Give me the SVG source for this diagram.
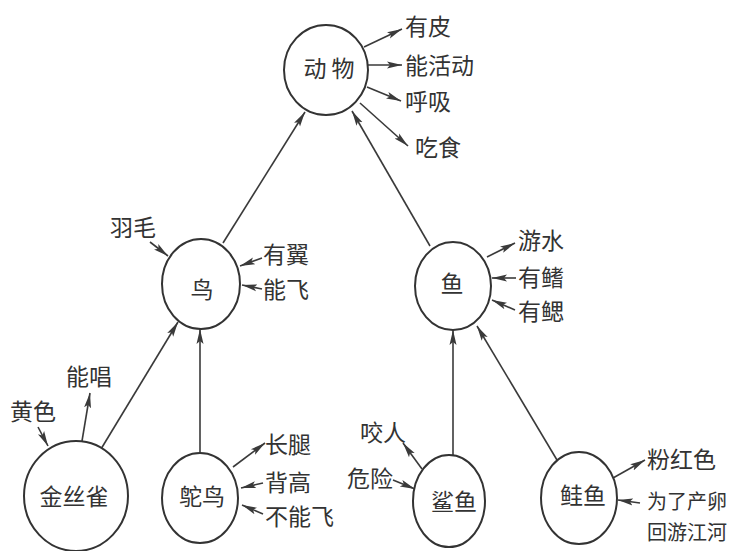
<svg xmlns="http://www.w3.org/2000/svg" width="736" height="551" viewBox="0 0 736 551">
<defs>
<marker id="ah" markerUnits="userSpaceOnUse" markerWidth="16" markerHeight="9" refX="15" refY="4.5" orient="auto">
<path d="M0,1 L15,4.5 L0,8 L3,4.5 z" fill="#3a3a3a"/>
</marker>
<style>
.n ellipse{fill:#fff;stroke:#333;stroke-width:2}
text{font-family:"Noto Sans CJK SC",sans-serif;fill:#333;dominant-baseline:central}
.lbl{font-size:23px;text-anchor:middle}
.at{font-size:23px}
#edges line{stroke:#3a3a3a;stroke-width:1.6;marker-end:url(#ah)}
</style>
</defs>
<rect width="736" height="551" fill="#fff"/>
<g id="edges">
<line x1="223" y1="243" x2="305" y2="112"/>
<line x1="430" y1="246" x2="352" y2="111"/>
<line x1="101" y1="449" x2="178" y2="322"/>
<line x1="200" y1="453" x2="200" y2="329"/>
<line x1="453" y1="456" x2="453" y2="330"/>
<line x1="557" y1="460" x2="477" y2="326"/>
<line x1="364" y1="47" x2="402" y2="29"/>
<line x1="368" y1="65" x2="402" y2="65"/>
<line x1="367" y1="87" x2="401" y2="101"/>
<line x1="360" y1="103" x2="408" y2="146"/>
<line x1="150" y1="242" x2="168" y2="256"/>
<line x1="262" y1="258" x2="240" y2="266"/>
<line x1="262" y1="289" x2="242" y2="285"/>
<line x1="487" y1="257" x2="515" y2="243"/>
<line x1="516" y1="278" x2="492" y2="278"/>
<line x1="515" y1="310" x2="492" y2="300"/>
<line x1="38" y1="427" x2="48" y2="446"/>
<line x1="82" y1="441" x2="90" y2="393"/>
<line x1="233" y1="467" x2="265" y2="443"/>
<line x1="263" y1="483" x2="241" y2="488"/>
<line x1="263" y1="514" x2="242" y2="505"/>
<line x1="422" y1="469" x2="403" y2="443"/>
<line x1="393" y1="480" x2="415" y2="489"/>
<line x1="613" y1="478" x2="645" y2="460"/>
<line x1="640" y1="503" x2="618" y2="500"/>
</g>
<g id="animal" class="n"><ellipse cx="326" cy="70" rx="42" ry="45"/><text class="lbl" x="329" y="67">动 物</text></g>
<g id="bird" class="n"><ellipse cx="201" cy="284" rx="39" ry="45"/><text class="lbl" x="202" y="288">鸟</text></g>
<g id="fish" class="n"><ellipse cx="453" cy="286" rx="38" ry="44"/><text class="lbl" x="452" y="282">鱼</text></g>
<g id="canary" class="n"><ellipse cx="76" cy="496" rx="52" ry="55"/><text class="lbl" x="74" y="495">金丝雀</text></g>
<g id="ostrich" class="n"><ellipse cx="200" cy="498" rx="38" ry="45"/><text class="lbl" x="202" y="495">鸵鸟</text></g>
<g id="shark" class="n"><ellipse cx="449" cy="501" rx="36" ry="46"/><text class="lbl" x="454" y="500">鲨鱼</text></g>
<g id="salmon" class="n"><ellipse cx="579" cy="498" rx="38" ry="46"/><text class="lbl" x="583" y="494">鲑鱼</text></g>
<g id="attrs">
<text class="at" x="405" y="25">有皮</text>
<text class="at" x="405" y="64">能活动</text>
<text class="at" x="405" y="100">呼吸</text>
<text class="at" x="415" y="146">吃食</text>
<text class="at" x="110" y="226">羽毛</text>
<text class="at" x="263" y="253">有翼</text>
<text class="at" x="263" y="288">能飞</text>
<text class="at" x="518" y="239">游水</text>
<text class="at" x="518" y="276">有鳍</text>
<text class="at" x="518" y="310">有鳃</text>
<text class="at" x="10" y="410">黄色</text>
<text class="at" x="66" y="375">能唱</text>
<text class="at" x="265" y="443">长腿</text>
<text class="at" x="265" y="481">背高</text>
<text class="at" x="265" y="515">不能飞</text>
<text class="at" x="360" y="431">咬人</text>
<text class="at" x="347" y="477">危险</text>
<text class="at" x="647" y="458">粉红色</text>
<text class="at" x="647" y="500" style="font-size:20px">为了产卵</text>
<text class="at" x="647" y="531" style="font-size:20px">回游江河</text>
</g>
</svg>
